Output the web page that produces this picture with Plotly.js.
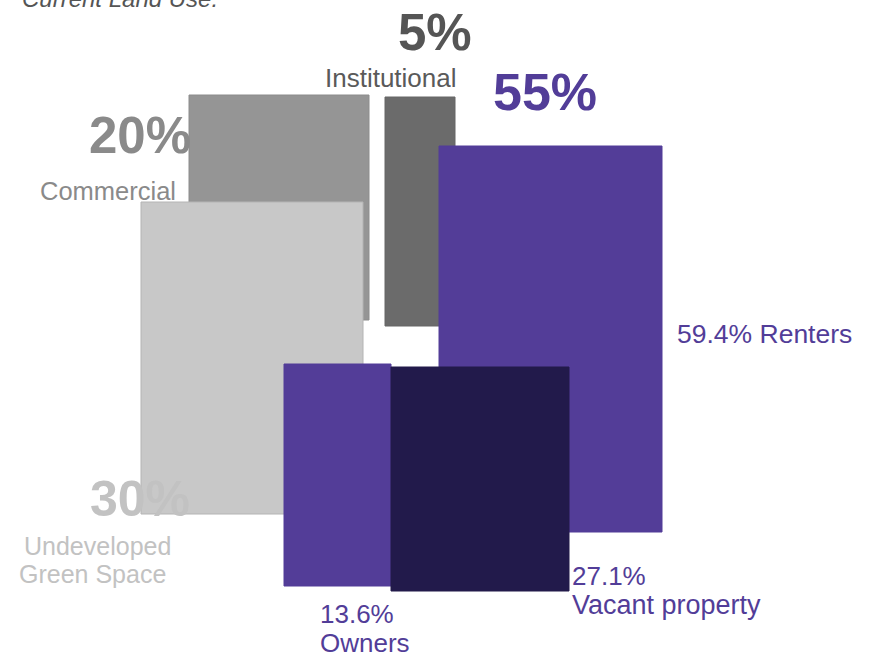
<!DOCTYPE html>
<html>
<head>
<meta charset="utf-8">
<script src="https://cdn.plot.ly/plotly-3.0.1.min.js"></script>
<style>
  html, body { margin: 0; padding: 0; background: #ffffff; }
  #chart { width: 878px; height: 657px; }
</style>
</head>
<body>
<div id="chart"></div>
<script>
// ---- data ----
const title = 'Current Land Use.';
const landUseCategories = ['Commercial', 'Institutional', 'Undeveloped Green Space', 'Residential'];
const landUseValues = [20, 5, 30, 55];
const residentialCategories = ['Renters', 'Vacant property', 'Owners'];
const residentialValues = [59.4, 27.1, 13.6];

// ---- geometry of the illustration (drawing units = pixels) ----
// [x0, x1, y0, y1]
const boxGeometry = {
  'Commercial':              [189, 369, 95, 320],
  'Institutional':           [385, 455, 97, 326],
  'Undeveloped Green Space': [141, 363, 202, 514],
  'Renters':                 [439, 662, 146, 532],
  'Owners':                  [284, 391, 364, 586],
  'Vacant property':         [391, 569, 367, 591]
};
const drawOrder = ['Commercial', 'Institutional', 'Undeveloped Green Space', 'Renters', 'Owners', 'Vacant property'];
const fillColors = {
  'Commercial': '#959595',
  'Institutional': '#6b6b6b',
  'Undeveloped Green Space': '#c8c8c8',
  'Renters': '#533d98',
  'Owners': '#533d98',
  'Vacant property': '#221a4b'
};
const edgeColors = {
  'Commercial': '#8c8c8c',
  'Institutional': '#666666',
  'Undeveloped Green Space': '#b4b4b4',
  'Renters': '#533d98',
  'Owners': '#533d98',
  'Vacant property': '#221a4b'
};

const traces = drawOrder.map(name => {
  const g = boxGeometry[name];
  return {
    type: 'bar',
    name: name,
    x: [(g[0] + g[1]) / 2],
    width: [g[1] - g[0]],
    base: [g[2]],
    y: [g[3] - g[2]],
    marker: { color: fillColors[name], line: { color: edgeColors[name], width: 1 } },
    hoverinfo: 'name',
    showlegend: false
  };
});

// ---- labels ----
const pct = v => v + '%';
const FONT = 'Liberation Sans, Arial, Helvetica, sans-serif';
const labelSpecs = [
  // text, x, y, size, color, bold, italic, yanchor
  [title, 21, 13, 24, '#555555', false, true, 'bottom'],
  [pct(landUseValues[1]), 397, 32, 51, '#555555', true, false, 'middle'],
  [landUseCategories[1], 324, 78, 26, '#5a5a5a', false, false, 'middle'],
  [pct(landUseValues[3]), 492, 92, 52, '#523d98', true, false, 'middle'],
  [pct(landUseValues[0]), 88, 135, 51, '#8a8a8a', true, false, 'middle'],
  [landUseCategories[0], 39, 191, 25.5, '#8a8a8a', false, false, 'middle'],
  [pct(landUseValues[2]), 89, 499, 50, '#c2c2c2', true, false, 'middle'],
  ['Undeveloped', 23, 546, 25, '#c2c2c2', false, false, 'middle'],
  ['Green Space', 18, 574, 25, '#c2c2c2', false, false, 'middle'],
  [pct(residentialValues[0]) + ' ' + residentialCategories[0], 676, 334, 26.5, '#523d98', false, false, 'middle'],
  [pct(residentialValues[1]), 571, 576, 26, '#523d98', false, false, 'middle'],
  [residentialCategories[1], 571, 605, 27, '#523d98', false, false, 'middle'],
  [pct(residentialValues[2]), 319, 614, 26, '#523d98', false, false, 'middle'],
  [residentialCategories[2], 319, 643, 26, '#523d98', false, false, 'middle']
];

const annotations = labelSpecs.map(s => ({
  text: s[5] ? '<b>' + s[0] + '</b>' : (s[6] ? '<i>' + s[0] + '</i>' : s[0]),
  x: s[1], y: s[2], xref: 'x', yref: 'y',
  xanchor: 'left', yanchor: s[7],
  showarrow: false,
  font: { family: FONT, size: s[3], color: s[4] },
  borderpad: 0
}));

const layout = {
  width: 878, height: 657,
  margin: { l: 0, r: 0, t: 0, b: 0 },
  paper_bgcolor: '#ffffff',
  plot_bgcolor: '#ffffff',
  barmode: 'overlay',
  xaxis: { range: [0, 878], visible: false, fixedrange: true },
  yaxis: { range: [657, 0], visible: false, fixedrange: true },
  annotations: annotations,
  showlegend: false
};

Plotly.newPlot('chart', traces, layout, { displayModeBar: false, staticPlot: true });
</script>
</body>
</html>
